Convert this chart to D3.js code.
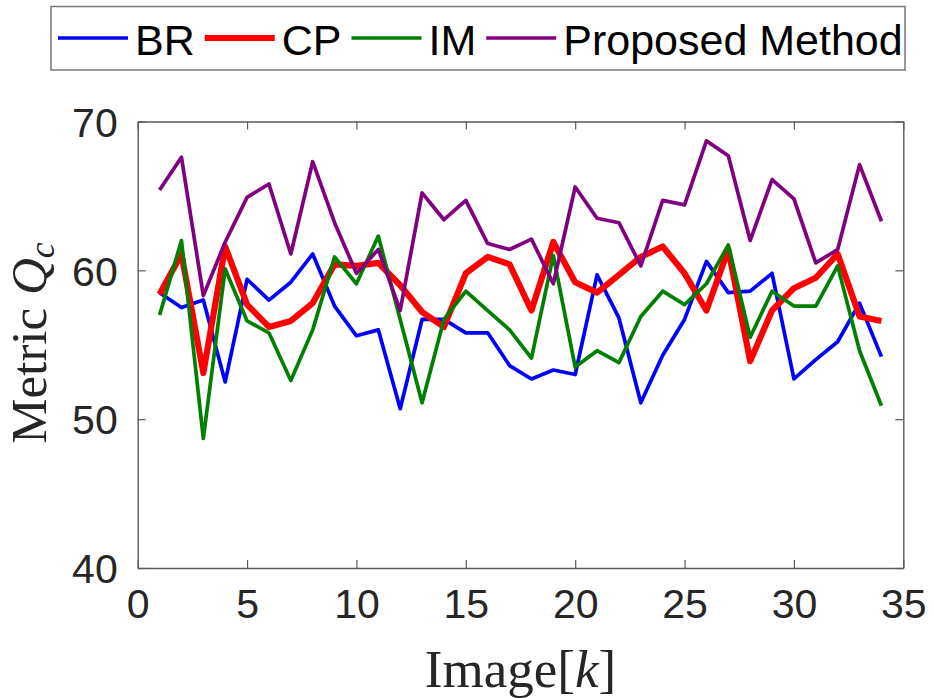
<!DOCTYPE html>
<html>
<head>
<meta charset="utf-8">
<script src="https://cdn.jsdelivr.net/npm/d3@7/dist/d3.min.js"></script>
<style>
  html, body { margin: 0; padding: 0; background: #fff; }
  svg { display: block; }
  .tick text { font-family: "Liberation Sans", Arial, sans-serif; }
</style>
</head>
<body>
<div id="chart"></div>
<script>
// image index k
const imageIndex = [1, 2, 3, 4, 5, 6, 7, 8, 9, 10, 11, 12, 13, 14, 15, 16, 17,
  18, 19, 20, 21, 22, 23, 24, 25, 26, 27, 28, 29, 30, 31, 32, 33, 34];

// metric Q_c per method
const brValues = [58.5, 57.5, 58.0, 52.5, 59.4, 58.0, 59.2, 61.1, 57.6, 55.6, 56.0, 50.7,
  56.7, 56.7, 55.8, 55.8, 53.6, 52.7, 53.3, 53.0, 59.7, 56.8, 51.1, 54.3, 56.7, 60.6,
  58.5, 58.6, 59.8, 52.7, 54.0, 55.2, 57.8, 54.2];
const cpValues = [58.4, 61.1, 53.1, 61.6, 57.7, 56.2, 56.6, 57.8, 60.4, 60.3, 60.5, 59.0,
  57.2, 56.2, 59.8, 60.9, 60.4, 57.3, 61.9, 59.2, 58.5, 59.7, 60.9, 61.6, 59.8, 57.3,
  61.4, 53.9, 57.3, 58.8, 59.5, 61.1, 56.9, 56.6];
const imValues = [57.0, 62.0, 48.7, 60.1, 56.6, 55.8, 52.6, 56.0, 60.9, 59.1, 62.3, 56.7,
  51.1, 56.7, 58.6, 57.3, 56.0, 54.1, 61.0, 53.5, 54.6, 53.8, 56.9, 58.6, 57.7, 59.1,
  61.7, 55.5, 58.6, 57.6, 57.6, 60.3, 54.6, 50.9];
const proposedValues = [65.4, 67.6, 58.3, 61.9, 64.9, 65.8, 61.1, 67.3, 63.2, 59.8, 61.4, 57.3,
  65.2, 63.4, 64.7, 61.8, 61.4, 62.1, 59.1, 65.6, 63.5, 63.2, 60.3, 64.7, 64.4, 68.7,
  67.7, 62.0, 66.1, 64.8, 60.5, 61.4, 67.1, 63.3];

const seriesNames = ['BR', 'CP', 'IM', 'Proposed Method'];
const xTicks = [0, 5, 10, 15, 20, 25, 30, 35];
const yTicks = [40, 50, 60, 70];

const series = [
  { name: seriesNames[0], values: brValues, color: '#0000ff', width: 3.7 },
  { name: seriesNames[1], values: cpValues, color: '#ff0000', width: 6.2 },
  { name: seriesNames[2], values: imValues, color: '#008000', width: 3.7 },
  { name: seriesNames[3], values: proposedValues, color: '#800080', width: 3.7 }
];

const width = 934;
const height = 698;
const margin = { top: 121.5, right: 30.7, bottom: 130, left: 137.7 };
const innerW = width - margin.left - margin.right;
const innerH = height - margin.top - margin.bottom;

const svg = d3.select('#chart').append('svg')
  .attr('width', width)
  .attr('height', height);

const x = d3.scaleLinear().domain([0, 35]).range([0, innerW]);
const y = d3.scaleLinear().domain([40, 70]).range([innerH, 0]);

const g = svg.append('g').attr('transform', `translate(${margin.left},${margin.top})`);

const axisColor = '#262626';
const tickFont = 41;

// bottom / left axes with labels, top / right mirrored ticks
const styleAxis = (sel) => {
  sel.select('.domain').attr('stroke', '#5a5a5a').attr('stroke-width', 1.4);
  sel.selectAll('.tick line').attr('stroke', '#5a5a5a').attr('stroke-width', 1.2);
  sel.selectAll('.tick text').attr('fill', axisColor).attr('font-size', tickFont);
};

g.append('g')
  .attr('transform', `translate(0,${innerH})`)
  .call(d3.axisBottom(x).tickValues(xTicks).tickSizeInner(-8).tickSizeOuter(0).tickPadding(20))
  .call(styleAxis)
  .call(sel => sel.selectAll('.tick text').attr('dy', '0.72em'));

g.append('g')
  .call(d3.axisLeft(y).tickValues(yTicks).tickSizeInner(-8).tickSizeOuter(0).tickPadding(20))
  .call(styleAxis)
  .call(sel => sel.selectAll('.tick text').attr('dy', '0.36em'));

g.append('g')
  .call(d3.axisTop(x).tickValues(xTicks).tickSizeInner(-8).tickSizeOuter(0).tickFormat(''))
  .call(styleAxis);

g.append('g')
  .attr('transform', `translate(${innerW},0)`)
  .call(d3.axisRight(y).tickValues(yTicks).tickSizeInner(-8).tickSizeOuter(0).tickFormat(''))
  .call(styleAxis);

// lines
const line = d3.line()
  .x((d, i) => x(imageIndex[i]))
  .y(d => y(d));

g.append('g').selectAll('path')
  .data(series)
  .join('path')
  .attr('fill', 'none')
  .attr('stroke', d => d.color)
  .attr('stroke-width', d => d.width)
  .attr('stroke-linejoin', 'round')
  .attr('d', d => line(d.values));

// axis titles (LaTeX-like serif)
const xTitle = svg.append('text')
  .attr('x', margin.left + innerW / 2)
  .attr('y', 687)
  .attr('text-anchor', 'middle')
  .attr('font-family', '"Liberation Serif", "Times New Roman", serif')
  .attr('font-size', 53)
  .attr('fill', axisColor);
xTitle.append('tspan').text('Image[');
xTitle.append('tspan').attr('font-style', 'italic').text('k');
xTitle.append('tspan').text(']');

const yTitle = svg.append('text')
  .attr('transform', `translate(46,${343}) rotate(-90)`)
  .attr('text-anchor', 'middle')
  .attr('font-family', '"Liberation Serif", "Times New Roman", serif')
  .attr('font-size', 51)
  .attr('fill', axisColor);
yTitle.append('tspan').text('Metric ');
yTitle.append('tspan').attr('font-style', 'italic').text('Q');
yTitle.append('tspan').attr('font-style', 'italic').attr('font-size', 36).attr('dy', 8).text('c');

// legend
const legend = svg.append('g');
legend.append('rect')
  .attr('x', 51).attr('y', 6.5)
  .attr('width', 854).attr('height', 63.5)
  .attr('fill', '#fff')
  .attr('stroke', '#7a7a7a')
  .attr('stroke-width', 1.5);

let cursor = 58;
series.forEach(s => {
  legend.append('line')
    .attr('x1', cursor).attr('x2', cursor + 70)
    .attr('y1', 38).attr('y2', 38)
    .attr('stroke', s.color)
    .attr('stroke-width', s.width);
  const t = legend.append('text')
    .attr('x', cursor + 77)
    .attr('y', 55)
    .attr('font-family', '"Liberation Sans", Arial, sans-serif')
    .attr('font-size', 43)
    .attr('fill', '#000')
    .text(s.name);
  cursor += 77 + t.node().getComputedTextLength() + 10;
});
</script>
</body>
</html>
